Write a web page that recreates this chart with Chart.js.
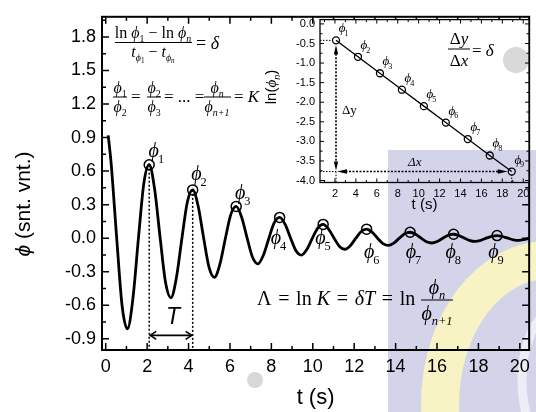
<!DOCTYPE html>
<html>
<head>
<meta charset="utf-8">
<script src="https://cdn.jsdelivr.net/npm/chart.js@4.4.1/dist/chart.umd.min.js"></script>
<style>
  html, body { margin: 0; padding: 0; background: #fff; }
  #wrap { position: relative; width: 536px; height: 412px; overflow: hidden; }
  #main { position: absolute; left: 0; top: 0; }
  #inset { position: absolute; left: 262px; top: 8px; }
  #wm { position: absolute; left: 0; top: 0; mix-blend-mode: multiply; pointer-events: none; }
</style>
</head>
<body>
<div id="wrap">
  <canvas id="main" width="536" height="412"></canvas>
  <canvas id="inset" width="274" height="210"></canvas>
  <canvas id="wm" width="536" height="412"></canvas>
</div>
<script>
// damped oscillation: time (s) and phi (arb. units)
const curveT = [0.12, 0.26, 0.53, 0.79, 1.05, 1.31, 1.58, 1.84, 2.10, 2.36, 2.63, 2.89, 3.15, 3.41, 3.68, 3.94,
  4.20, 4.46, 4.73, 4.99, 5.25, 5.51, 5.78, 6.04, 6.30, 6.56, 6.83, 7.09, 7.35, 7.61, 7.88, 8.14,
  8.40, 8.66, 8.93, 9.19, 9.45, 9.71, 9.98, 10.24, 10.50, 10.76, 11.03, 11.29, 11.55, 11.81, 12.08, 12.34,
  12.60, 12.86, 13.13, 13.39, 13.65, 13.91, 14.18, 14.44, 14.70, 14.96, 15.23, 15.49, 15.75, 16.01, 16.28, 16.54,
  16.80, 17.06, 17.33, 17.59, 17.85, 18.11, 18.38, 18.64, 18.90, 19.16, 19.43, 19.69, 19.95, 20.21, 20.48];
const curvePhi = [0.92, 0.671, 0, -0.604, -0.811, -0.544, 0, 0.490, 0.657, 0.441, 0, -0.397, -0.533, -0.357, 0, 0.322,
  0.432, 0.290, 0, -0.261, -0.350, -0.235, 0, 0.211, 0.284, 0.190, 0, -0.171, -0.230, -0.154, 0, 0.139,
  0.186, 0.125, 0, -0.113, -0.151, -0.101, 0, 0.091, 0.123, 0.082, 0, -0.074, -0.099, -0.067, 0, 0.060,
  0.081, 0.054, 0, -0.049, -0.065, -0.044, 0, 0.039, 0.053, 0.035, 0, -0.032, -0.043, -0.029, 0, 0.026,
  0.035, 0.023, 0, -0.021, -0.028, -0.019, 0, 0.017, 0.023, 0.015, 0, -0.014, -0.019, -0.012, 0];

// marked maxima phi_1 .. phi_9
const peakT = [2.1, 4.2, 6.3, 8.4, 10.5, 12.6, 14.7, 16.8, 18.9];
const peakPhi = [0.657, 0.432, 0.284, 0.186, 0.123, 0.081, 0.053, 0.035, 0.023];
const peakLn = [-0.42, -0.84, -1.26, -1.68, -2.10, -2.52, -2.94, -3.36, -3.77];

// tick values
const xTicks = [0, 2, 4, 6, 8, 10, 12, 14, 16, 18, 20];
const xMinor = [1, 3, 5, 7, 9, 11, 13, 15, 17, 19];
const yTicks = [-0.9, -0.6, -0.3, 0, 0.3, 0.6, 0.9, 1.2, 1.5, 1.8];
const yMinor = [-0.75, -0.45, -0.15, 0.15, 0.45, 0.75, 1.05, 1.35, 1.65, 1.95];
const insXTicks = [2, 4, 6, 8, 10, 12, 14, 16, 18, 20];
const insXMinor = [1, 3, 5, 7, 9, 11, 13, 15, 17, 19];
const insYTicks = [0, -0.5, -1.0, -1.5, -2.0, -2.5, -3.0, -3.5, -4.0];
const insYMinor = [-0.25, -0.75, -1.25, -1.75, -2.25, -2.75, -3.25, -3.75];

// where the phi_n labels sit (data units of the main plot)
const labelT = [2.32, 4.38, 6.49, 8.22, 10.37, 12.72, 14.74, 16.66, 18.72];
const labelY = [0.767, 0.563, 0.395, -0.013, -0.013, -0.137, -0.137, -0.137, -0.137];
const T_ARROW_Y = -0.869;

const SERIF = '"Liberation Serif", "Times New Roman", serif';
const SANS = '"Liberation Sans", Arial, sans-serif';
const EQ = '\u2004=\u2004';

// parts: [text, italic, level]  level 0 normal, 1 subscript, 2 sub-subscript
function rich(ctx, x, y, parts, size, align) {
  const scale = [1, 0.62, 0.45], drop = [0, 0.26, 0.4];
  const setF = p => { ctx.font = (p[1] ? 'italic ' : '') + (size * scale[p[2]]).toFixed(1) + 'px ' + SERIF; };
  let w = 0;
  parts.forEach(p => { setF(p); w += ctx.measureText(p[0]).width; });
  let cx = align === 'center' ? x - w / 2 : x;
  ctx.textAlign = 'left';
  ctx.textBaseline = 'alphabetic';
  parts.forEach(p => {
    setF(p);
    ctx.fillText(p[0], cx, y + size * drop[p[2]]);
    cx += ctx.measureText(p[0]).width;
  });
  return w;
}

function frac(ctx, cx, lineY, x0, x1, num, den, size, numGap, denGap) {
  rich(ctx, cx, lineY - numGap, num, size, 'center');
  rich(ctx, cx, lineY + denGap, den, size, 'center');
  ctx.beginPath();
  ctx.lineWidth = 1;
  ctx.moveTo(x0, lineY);
  ctx.lineTo(x1, lineY);
  ctx.stroke();
}

function phiLabel(ctx, x, cy, n, size) {
  ctx.font = 'italic ' + size + 'px ' + SERIF;
  ctx.textAlign = 'center';
  ctx.textBaseline = 'alphabetic';
  const base = cy + size * 0.23;
  ctx.fillText('ϕ', x, base);
  const w = ctx.measureText('ϕ').width;
  ctx.font = (size * 0.62).toFixed(1) + 'px ' + SERIF;
  ctx.textAlign = 'left';
  ctx.fillText(String(n), x + w / 2 - 1, base + size * 0.3);
}

function frameTicks(chart, xs, xm, ys, ym, major, minor, lw, frameW) {
  const { ctx, chartArea: a, scales: { x, y } } = chart;
  ctx.save();
  ctx.strokeStyle = '#000';
  ctx.lineWidth = lw;
  ctx.beginPath();
  const vx = (vals, len) => vals.forEach(v => {
    const p = x.getPixelForValue(v);
    if (p < a.left || p > a.right) return;
    ctx.moveTo(p, a.bottom); ctx.lineTo(p, a.bottom - len);
    ctx.moveTo(p, a.top); ctx.lineTo(p, a.top + len);
  });
  const vy = (vals, len) => vals.forEach(v => {
    const p = y.getPixelForValue(v);
    if (p < a.top || p > a.bottom) return;
    ctx.moveTo(a.left, p); ctx.lineTo(a.left + len, p);
    ctx.moveTo(a.right, p); ctx.lineTo(a.right - len, p);
  });
  vx(xs, major); vx(xm, minor); vy(ys, major); vy(ym, minor);
  ctx.stroke();
  ctx.lineWidth = frameW;
  ctx.strokeRect(a.left, a.top, a.right - a.left, a.bottom - a.top);
  ctx.restore();
}

function chevron(ctx, x, y, dir, len, half) {
  ctx.beginPath();
  ctx.moveTo(x + dir * len, y - half);
  ctx.lineTo(x, y);
  ctx.lineTo(x + dir * len, y + half);
  ctx.stroke();
}

function headV(ctx, x, y, dir, len, half) { // filled arrow head, dir -1 up, 1 down
  ctx.beginPath();
  ctx.moveTo(x, y);
  ctx.lineTo(x - half, y - dir * len);
  ctx.lineTo(x + half, y - dir * len);
  ctx.closePath();
  ctx.fill();
}
function headH(ctx, x, y, dir, len, half) { // dir -1 left, 1 right
  ctx.beginPath();
  ctx.moveTo(x, y);
  ctx.lineTo(x - dir * len, y - half);
  ctx.lineTo(x - dir * len, y + half);
  ctx.closePath();
  ctx.fill();
}

const mainDecor = {
  id: 'mainDecor',
  afterDraw(chart) {
    const { ctx, scales: { x, y } } = chart;
    frameTicks(chart, xTicks, xMinor, yTicks, yMinor, 7, 4, 1.5, 2);
    ctx.save();
    ctx.fillStyle = '#000';
    ctx.strokeStyle = '#000';

    // period arrow
    const ax0 = x.getPixelForValue(peakT[0]), ax1 = x.getPixelForValue(peakT[1]);
    const ay = y.getPixelForValue(T_ARROW_Y);
    ctx.lineWidth = 1.6;
    ctx.beginPath(); ctx.moveTo(ax0 + 1, ay); ctx.lineTo(ax1 - 1, ay); ctx.stroke();
    chevron(ctx, ax0 + 1, ay, 1, 6, 4);
    chevron(ctx, ax1 - 1, ay, -1, 6, 4);
    ctx.font = 'italic 23px ' + SANS;
    ctx.textAlign = 'center';
    ctx.textBaseline = 'alphabetic';
    ctx.fillText('T', (ax0 + ax1) / 2 + 2, ay - 11);

    // phi_n labels
    labelT.forEach((t, i) => phiLabel(ctx, x.getPixelForValue(t), y.getPixelForValue(labelY[i]), i + 1, 20));

    // formulas
    rich(ctx, 153, 38, [['ln ', 0, 0], ['ϕ', 1, 0], ['1', 0, 1], [' − ln ', 0, 0], ['ϕ', 1, 0], ['n', 1, 1]], 16, 'center');
    ctx.lineWidth = 1;
    ctx.beginPath(); ctx.moveTo(115, 42.5); ctx.lineTo(192, 42.5); ctx.stroke();
    rich(ctx, 153, 57, [['t', 1, 0], ['ϕ', 1, 1], ['1', 0, 2], [' − ', 0, 0], ['t', 1, 0], ['ϕ', 1, 1], ['n', 1, 2]], 16, 'center');
    rich(ctx, 196, 49, [['= ', 0, 0], ['δ', 1, 0]], 18, 'left');

    const fs = 16;
    frac(ctx, 120, 97, 113, 127, [['ϕ', 1, 0], ['1', 0, 1]], [['ϕ', 1, 0], ['2', 0, 1]], fs, 4, 15);
    rich(ctx, 131, 102, [['=', 0, 0]], 17, 'left');
    frac(ctx, 154, 97, 147, 161, [['ϕ', 1, 0], ['2', 0, 1]], [['ϕ', 1, 0], ['3', 0, 1]], fs, 4, 15);
    rich(ctx, 164, 102, [['= ... =', 0, 0]], 17, 'left');
    frac(ctx, 217, 97, 204, 231, [['ϕ', 1, 0], ['n', 1, 1]], [['ϕ', 1, 0], ['n+1', 1, 1]], fs, 4, 15);
    rich(ctx, 234, 102, [['= ', 0, 0], ['K', 1, 0]], 17, 'left');

    rich(ctx, 257, 305, [['Λ' + EQ + 'ln ', 0, 0], ['K', 1, 0], [EQ, 0, 0], ['δT', 1, 0], [EQ + 'ln', 0, 0]], 20, 'left');
    frac(ctx, 437, 300, 421, 453, [['ϕ', 1, 0], ['n', 1, 1]], [['ϕ', 1, 0], ['n+1', 1, 1]], 20, 6, 20);

    // y axis title with italic phi
    ctx.save();
    ctx.translate(24, 204);
    ctx.rotate(-Math.PI / 2);
    ctx.textBaseline = 'middle';
    ctx.textAlign = 'left';
    ctx.font = 'italic 21px ' + SANS;
    const wa = ctx.measureText('ϕ').width;
    ctx.font = '21px ' + SANS;
    const wb = ctx.measureText(' (snt. vnt.)').width;
    let tx = -(wa + wb) / 2;
    ctx.font = 'italic 21px ' + SANS;
    ctx.fillText('ϕ', tx, 0);
    ctx.font = '21px ' + SANS;
    ctx.fillText(' (snt. vnt.)', tx + wa, 0);
    ctx.restore();
    ctx.restore();
  }
};

new Chart(document.getElementById('main'), {
  type: 'scatter',
  data: {
    datasets: [
      { data: curveT.map((t, i) => ({ x: t, y: curvePhi[i] })), showLine: true, borderColor: '#000',
        borderWidth: 2.8, pointRadius: 0, cubicInterpolationMode: 'monotone' },
      { data: peakT.map((t, i) => ({ x: t, y: peakPhi[i] })), pointRadius: 5, pointBorderWidth: 1.5,
        pointBorderColor: '#000', pointBackgroundColor: 'rgba(0,0,0,0)' },
      { data: [{ x: peakT[0], y: peakPhi[0] }, { x: peakT[0], y: -1.0 }], showLine: true, borderColor: '#000',
        borderWidth: 1.5, borderDash: [2, 2], pointRadius: 0 },
      { data: [{ x: peakT[1], y: peakPhi[1] }, { x: peakT[1], y: -1.0 }], showLine: true, borderColor: '#000',
        borderWidth: 1.5, borderDash: [2, 2], pointRadius: 0 }
    ]
  },
  options: {
    responsive: false, animation: false, devicePixelRatio: 1,
    layout: { padding: { top: 13, right: 4, left: 0, bottom: 0 } },
    plugins: { legend: { display: false }, tooltip: { enabled: false } },
    scales: {
      x: {
        type: 'linear', min: -0.18, max: 20.45,
        grid: { display: false, drawTicks: false }, border: { display: false },
        afterBuildTicks: s => { s.ticks = xTicks.map(v => ({ value: v })); },
        afterFit: s => { s.height = 62; },
        ticks: { color: '#000', font: { family: SANS, size: 18 }, padding: 6, maxRotation: 0, autoSkip: false,
          callback: v => String(v) },
        title: { display: true, text: 't (s)', color: '#000', font: { family: SANS, size: 22 }, padding: { top: 0, bottom: 1 } }
      },
      y: {
        type: 'linear', min: -1.0, max: 1.98,
        grid: { display: false, drawTicks: false }, border: { display: false },
        afterBuildTicks: s => { s.ticks = yTicks.map(v => ({ value: v })); },
        afterFit: s => { s.width = 102; },
        ticks: { color: '#000', font: { family: SANS, size: 18 }, padding: 6, autoSkip: false,
          callback: v => v.toFixed(1) }
      }
    }
  },
  plugins: [mainDecor]
});

const insetDecor = {
  id: 'insetDecor',
  beforeDraw(chart) {
    const { ctx, chartArea: a } = chart;
    ctx.save();
    ctx.fillStyle = '#fff';
    ctx.fillRect(a.left, a.top, a.right - a.left, a.bottom - a.top);
    ctx.restore();
  },
  afterDraw(chart) {
    const { ctx, chartArea: a, scales: { x, y } } = chart;
    frameTicks(chart, insXTicks, insXMinor, insYTicks, insYMinor, 4, 2.5, 1, 1.3);
    ctx.save();
    ctx.fillStyle = '#000';
    ctx.strokeStyle = '#000';
    const x1 = x.getPixelForValue(peakT[0]), x9 = x.getPixelForValue(peakT[8]);
    const y1 = y.getPixelForValue(peakLn[0]), y9 = y.getPixelForValue(peakLn[8]);

    // thin dotted guides
    ctx.lineWidth = 1;
    ctx.setLineDash([1.5, 1.5]);
    ctx.beginPath();
    ctx.moveTo(a.left, y1); ctx.lineTo(x1 - 3, y1);
    ctx.moveTo(a.left, y9); ctx.lineTo(x1, y9);
    ctx.moveTo(x1, y9); ctx.lineTo(x1, a.bottom);
    ctx.moveTo(x9, y9 + 3); ctx.lineTo(x9, a.bottom);
    ctx.stroke();

    // delta-y and delta-x arrows
    ctx.lineWidth = 1.6;
    ctx.setLineDash([2, 1.5]);
    ctx.beginPath();
    ctx.moveTo(x1, y1 + 10); ctx.lineTo(x1, y9 - 6);
    ctx.moveTo(x1 + 6, y9); ctx.lineTo(x9 - 9, y9);
    ctx.stroke();
    ctx.setLineDash([]);
    headV(ctx, x1, y1 + 5, -1, 9, 2.2);
    headV(ctx, x1, y9 - 1, 1, 9, 2.2);
    headH(ctx, x1 + 1, y9, -1, 10, 2.2);
    headH(ctx, x9 - 4, y9, 1, 10, 2.2);

    // phi_n labels next to points
    peakT.forEach((t, i) => phiLabel(ctx, x.getPixelForValue(t) + 6, y.getPixelForValue(peakLn[i]) - 11, i + 1, 13));

    rich(ctx, x1 + 6, y.getPixelForValue(-2.3), [['Δy', 0, 0]], 13, 'left');
    rich(ctx, 146, 158, [['Δx', 1, 0]], 13, 'left');

    // slope formula (canvas offset 262, 8)
    frac(ctx, 197, 41, 186, 208, [['Δ', 0, 0], ['y', 1, 0]], [['Δ', 0, 0], ['x', 1, 0]], 17, 5, 17);
    rich(ctx, 210, 48, [['= ', 0, 0], ['δ', 1, 0]], 17, 'left');

    // rotated y title ln(phi_n)
    ctx.save();
    ctx.translate(10, 79);
    ctx.rotate(-Math.PI / 2);
    ctx.textBaseline = 'middle';
    ctx.textAlign = 'left';
    ctx.font = '15px ' + SANS;
    const w1 = ctx.measureText('ln(').width;
    ctx.font = 'italic 15px ' + SERIF;
    const w2 = ctx.measureText('ϕ').width;
    ctx.font = '9px ' + SANS;
    const w3 = ctx.measureText('n').width;
    ctx.font = '15px ' + SANS;
    const w4 = ctx.measureText(')').width;
    let cx = -(w1 + w2 + w3 + w4) / 2;
    ctx.fillText('ln(', cx, 0); cx += w1;
    ctx.font = 'italic 15px ' + SERIF; ctx.fillText('ϕ', cx, 0); cx += w2;
    ctx.font = 'italic 9px ' + SANS; ctx.fillText('n', cx, 5); cx += w3;
    ctx.font = '15px ' + SANS; ctx.fillText(')', cx, 0);
    ctx.restore();
    ctx.restore();
  }
};

new Chart(document.getElementById('inset'), {
  type: 'scatter',
  data: {
    datasets: [
      { data: peakT.map((t, i) => ({ x: t, y: peakLn[i] })), showLine: true, borderColor: '#000', borderWidth: 1.3,
        pointRadius: 3.5, pointBorderWidth: 1.3, pointBorderColor: '#000', pointBackgroundColor: 'rgba(0,0,0,0)' }
    ]
  },
  options: {
    responsive: false, animation: false, devicePixelRatio: 1,
    layout: { padding: { top: 11, right: 7, left: 0, bottom: 0 } },
    plugins: { legend: { display: false }, tooltip: { enabled: false } },
    scales: {
      x: {
        type: 'linear', min: 0.57, max: 20.55,
        grid: { display: false, drawTicks: false }, border: { display: false },
        afterBuildTicks: s => { s.ticks = insXTicks.map(v => ({ value: v })); },
        afterFit: s => { s.height = 35.5; },
        ticks: { color: '#000', font: { family: SANS, size: 11 }, padding: 5, maxRotation: 0, autoSkip: false,
          callback: v => String(v) },
        title: { display: true, text: 't (s)', color: '#000', font: { family: SANS, size: 15 }, padding: { top: 0, bottom: 4 } }
      },
      y: {
        type: 'linear', min: -4.05, max: 0.11,
        grid: { display: false, drawTicks: false }, border: { display: false },
        afterBuildTicks: s => { s.ticks = insYTicks.map(v => ({ value: v })); },
        afterFit: s => { s.width = 58; },
        ticks: { color: '#000', font: { family: SANS, size: 11 }, padding: 5, autoSkip: false,
          callback: v => v.toFixed(1) }
      }
    }
  },
  plugins: [insetDecor]
});

// faint background watermark of the source image
(function () {
  const ctx = document.getElementById('wm').getContext('2d');
  ctx.fillStyle = '#d3d4ea';
  ctx.fillRect(388, 150, 148, 262);
  ctx.strokeStyle = '#f8f3c4';
  ctx.lineWidth = 38;
  ctx.beginPath();
  ctx.ellipse(548, 405, 108, 145, 0, Math.PI * 0.5, Math.PI * 1.5);
  ctx.stroke();
  ctx.strokeStyle = '#eceef6';
  ctx.lineWidth = 9;
  ctx.beginPath();
  ctx.ellipse(560, 380, 38, 72, 0, Math.PI * 0.5, Math.PI * 1.45);
  ctx.stroke();
  ctx.fillStyle = '#d8d8d8';
  ctx.beginPath(); ctx.arc(255, 380, 8, 0, Math.PI * 2); ctx.fill();
  ctx.beginPath(); ctx.arc(516, 60, 13, 0, Math.PI * 2); ctx.fill();
})();
</script>
</body>
</html>
